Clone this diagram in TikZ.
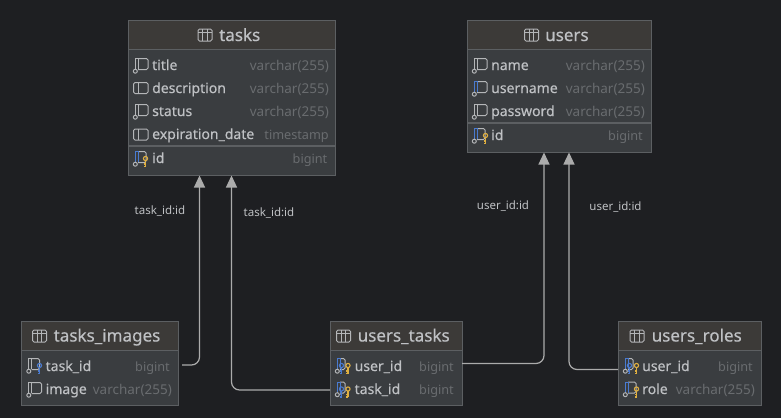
\documentclass[tikz,border=0pt]{standalone}
\usepackage{fontspec}
\setmainfont[FakeBold=0.35]{Noto Sans}
\newfontfamily\typefont{Noto Sans}
\usetikzlibrary{arrows.meta}
\definecolor{bgc}{HTML}{1E1F22}
\definecolor{bodyc}{HTML}{3A3D40}
\definecolor{headc}{HTML}{3C3A38}
\definecolor{edgec}{HTML}{5C5F62}
\definecolor{txtc}{HTML}{BFC1C4}
\definecolor{typec}{HTML}{696C6F}
\definecolor{linec}{HTML}{ABABAB}
\definecolor{iconc}{HTML}{B4B6B8}
\definecolor{bluec}{HTML}{4A7BD0}
\definecolor{goldc}{HTML}{E0B040}
\tikzset{
  x=1pt,y=-1pt,
  tablebox/.style={draw=edgec,fill=bodyc,line width=1pt,anchor=north west,inner sep=0pt,outer sep=0pt},
  headbox/.style={draw=edgec,fill=headc,line width=1pt},
  sepline/.style={draw=edgec,line width=1.2pt},
  titletext/.style={text=txtc,font=\fontsize{17}{18}\selectfont,anchor=west,inner sep=0pt,text height=14pt,text depth=2pt},
  coltext/.style={text=txtc,font=\fontsize{14}{16}\selectfont,anchor=west,inner sep=0pt,text height=11.5pt,text depth=2.5pt},
  typetext/.style={text=typec,font=\typefont\fontsize{13.5}{16}\selectfont,anchor=east,inner sep=0pt,text height=11.5pt,text depth=2.5pt},
  shorttype/.style={text=typec,font=\typefont\fontsize{12.7}{16}\selectfont,anchor=east,inner sep=0pt,text height=11.5pt,text depth=2.5pt},
  rellabel/.style={text=txtc,font=\typefont\fontsize{11.5}{14}\selectfont,inner sep=0pt,text height=10pt,text depth=2pt},
  rel/.style={draw=linec,line width=1.2pt,rounded corners=8pt,-{Triangle[width=11pt,length=12pt,fill=linec]}},
  iconline/.style={draw=iconc,line width=1pt,line join=round},
}
% table glyph beside a title
\newcommand{\tblicon}[2]{%
  \begin{scope}[shift={(#1,#2)}]
    \draw[iconline,rounded corners=1.5pt] (0,-6) rectangle (14,6);
    \draw[iconline] (0,-2.5) -- (14,-2.5) (4.7,-6) -- (4.7,6) (9.3,-6) -- (9.3,6);
  \end{scope}}
% plain column glyph
\newcommand{\plainicon}[2]{%
  \begin{scope}[shift={(#1,#2)}]
    \draw[iconline,rounded corners=1.5pt] (0,-5.5) rectangle (14.5,5.5);
    \draw[iconline] (4.5,-5.5) -- (4.5,5.5);
  \end{scope}}
% not-null column glyph; #3 = colour of the left bar, #4 = right end of the body
\newcommand{\nnicon}[4]{%
  \begin{scope}[shift={(#1,#2)}]
    \draw[iconline,rounded corners=1.5pt] (4.5,-6.5) -- (#4,-6.5) -- (#4,4.5) -- (4.5,4.5);
    \draw[draw=#3,line width=1pt] (1.8,3.5) -- (1.8,-6.5) -- (4.5,-6.5) -- (4.5,4);
    \draw[iconline] (1.8,6.2) circle (2);
  \end{scope}}
% key glyph
\newcommand{\keyicon}[3]{%
  \begin{scope}[shift={(#1,#2)}]
    \draw[draw=#3,line width=1.1pt] (0,-1.5) circle (2.1);
    \draw[draw=#3,line width=1.2pt] (0,0.6) -- (0,6.5) (0,4) -- (-2,4) (0,6.5) -- (-2,6.5);
  \end{scope}}
% #1 name, #2 left, #3 top, #4 width, #5 height, #6 header bottom, #7 title, #8 title left x
\newcommand{\tableframe}[8]{%
  \node[tablebox,minimum width=#4pt,minimum height=#5pt] (#1) at (#2,#3) {};
  \path[headbox] (#2,#3) rectangle ++(#4,#6-#3);
  \node[titletext] (#1-title) at (#8,#3+14.5) {#7};
}
\begin{document}
\begin{tikzpicture}
\useasboundingbox (0,0) rectangle (781,418);
\fill[bgc] (0,0) rectangle (781,418);

% ---- tasks
\tableframe{tasks}{128}{20.5}{207.5}{155}{49.5}{tasks}{219}
\tblicon{198}{35}
\draw[sepline] (tasks.west |- 0,146) -- (tasks.east |- 0,146);
\nnicon{133.5}{65}{iconc}{14.5}
\node[coltext] (tasks-c1) at (152,65.5) {title};
\node[typetext] (tasks-t1) at (329,65.5) {varchar(255)};
\plainicon{133.5}{88}
\node[coltext] (tasks-c2) at (152,88.5) {description};
\node[typetext] (tasks-t2) at (329,88.5) {varchar(255)};
\nnicon{133.5}{111}{iconc}{14.5}
\node[coltext] (tasks-c3) at (152,111.5) {status};
\node[typetext] (tasks-t3) at (329,111.5) {varchar(255)};
\plainicon{133.5}{134.5}
\node[coltext] (tasks-c4) at (152,134.5) {expiration\_date};
\node[shorttype] (tasks-t4) at (329,134.5) {timestamp};
\nnicon{133.5}{158}{bluec}{12.5}
\keyicon{145.5}{160}{goldc}
\node[coltext] (tasks-c5) at (152,158.5) {id};
\node[shorttype] (tasks-t5) at (327.5,158.5) {bigint};

% ---- users
\tableframe{users}{467}{20.5}{184}{132}{49.5}{users}{545}
\tblicon{524.5}{35}
\draw[sepline] (users.west |- 0,123) -- (users.east |- 0,123);
\nnicon{472.5}{65}{iconc}{14.5}
\node[coltext] (users-c1) at (491,65.5) {name};
\node[typetext] (users-t1) at (645,65.5) {varchar(255)};
\nnicon{472.5}{88}{bluec}{14.5}
\node[coltext] (users-c2) at (491,88.5) {username};
\node[typetext] (users-t2) at (645,88.5) {varchar(255)};
\nnicon{472.5}{111}{iconc}{14.5}
\node[coltext] (users-c3) at (491,111.5) {password};
\node[typetext] (users-t3) at (645,111.5) {varchar(255)};
\nnicon{472.5}{135}{bluec}{12.5}
\keyicon{485.5}{137}{goldc}
\node[coltext] (users-c4) at (491,135.5) {id};
\node[shorttype] (users-t4) at (643,135.5) {bigint};

% ---- tasks_images
\tableframe{timg}{21.5}{321}{156.5}{84.5}{350.5}{tasks\_images}{53.5}
\tblicon{32.5}{336}
\nnicon{27}{365}{iconc}{12.5}
\keyicon{39.5}{367}{bluec}
\node[coltext] (timg-c1) at (45.5,366.5) {task\_id};
\node[shorttype] (timg-t1) at (170,366.5) {bigint};
\nnicon{27}{389}{iconc}{14.5}
\node[coltext] (timg-c2) at (45.5,389.5) {image};
\node[typetext] (timg-t2) at (172,389.5) {varchar(255)};

% ---- users_tasks
\tableframe{utask}{330}{321}{132}{84.5}{350.5}{users\_tasks}{357.5}
\tblicon{336.5}{336}
\nnicon{335.5}{365}{bluec}{9.5}
\keyicon{341.5}{367}{bluec}
\keyicon{348}{367}{goldc}
\node[coltext] (utask-c1) at (354.5,366.5) {user\_id};
\node[shorttype] (utask-t1) at (454,366.5) {bigint};
\nnicon{335.5}{388.5}{bluec}{9.5}
\keyicon{341.5}{390.5}{bluec}
\keyicon{348}{390.5}{goldc}
\node[coltext] (utask-c2) at (354.5,389.5) {task\_id};
\node[shorttype] (utask-t2) at (454,389.5) {bigint};

% ---- users_roles
\tableframe{uroles}{618}{321}{143}{84.5}{350.5}{users\_roles}{651.5}
\tblicon{630}{336}
\nnicon{623.5}{365}{bluec}{9.5}
\keyicon{629.5}{367}{bluec}
\keyicon{636.5}{367}{goldc}
\node[coltext] (uroles-c1) at (642,366.5) {user\_id};
\node[shorttype] (uroles-t1) at (753,366.5) {bigint};
\nnicon{623.5}{388.5}{bluec}{12.5}
\keyicon{636.5}{390.5}{goldc}
\node[coltext] (uroles-c2) at (642,389.5) {role};
\node[typetext] (uroles-t2) at (755,389.5) {varchar(255)};

% ---- connector ends
\coordinate (p-img) at (182,365);
\coordinate (p-ut-task) at (330,390);
\coordinate (p-ut-user) at (462,363.5);
\coordinate (p-ur) at (618,369.5);
\coordinate (tasks-a) at ([xshift=71.5pt]tasks.south west);
\coordinate (tasks-b) at ([xshift=103.5pt]tasks.south west);
\coordinate (users-a) at ([xshift=77pt]users.south west);
\coordinate (users-b) at ([xshift=102pt]users.south west);

\draw[rel] (p-img) -| (tasks-a);
\draw[rel] (p-ut-task) -| (tasks-b);
\draw[rel] (p-ut-user) -| (users-a);
\draw[rel] (p-ur) -| (users-b);

\node[rellabel] (l1) at (160,210) {task\_id:id};
\node[rellabel] (l2) at (269,212) {task\_id:id};
\node[rellabel] (l3) at (503,205) {user\_id:id};
\node[rellabel] (l4) at (615.5,206) {user\_id:id};
\end{tikzpicture}
\end{document}
